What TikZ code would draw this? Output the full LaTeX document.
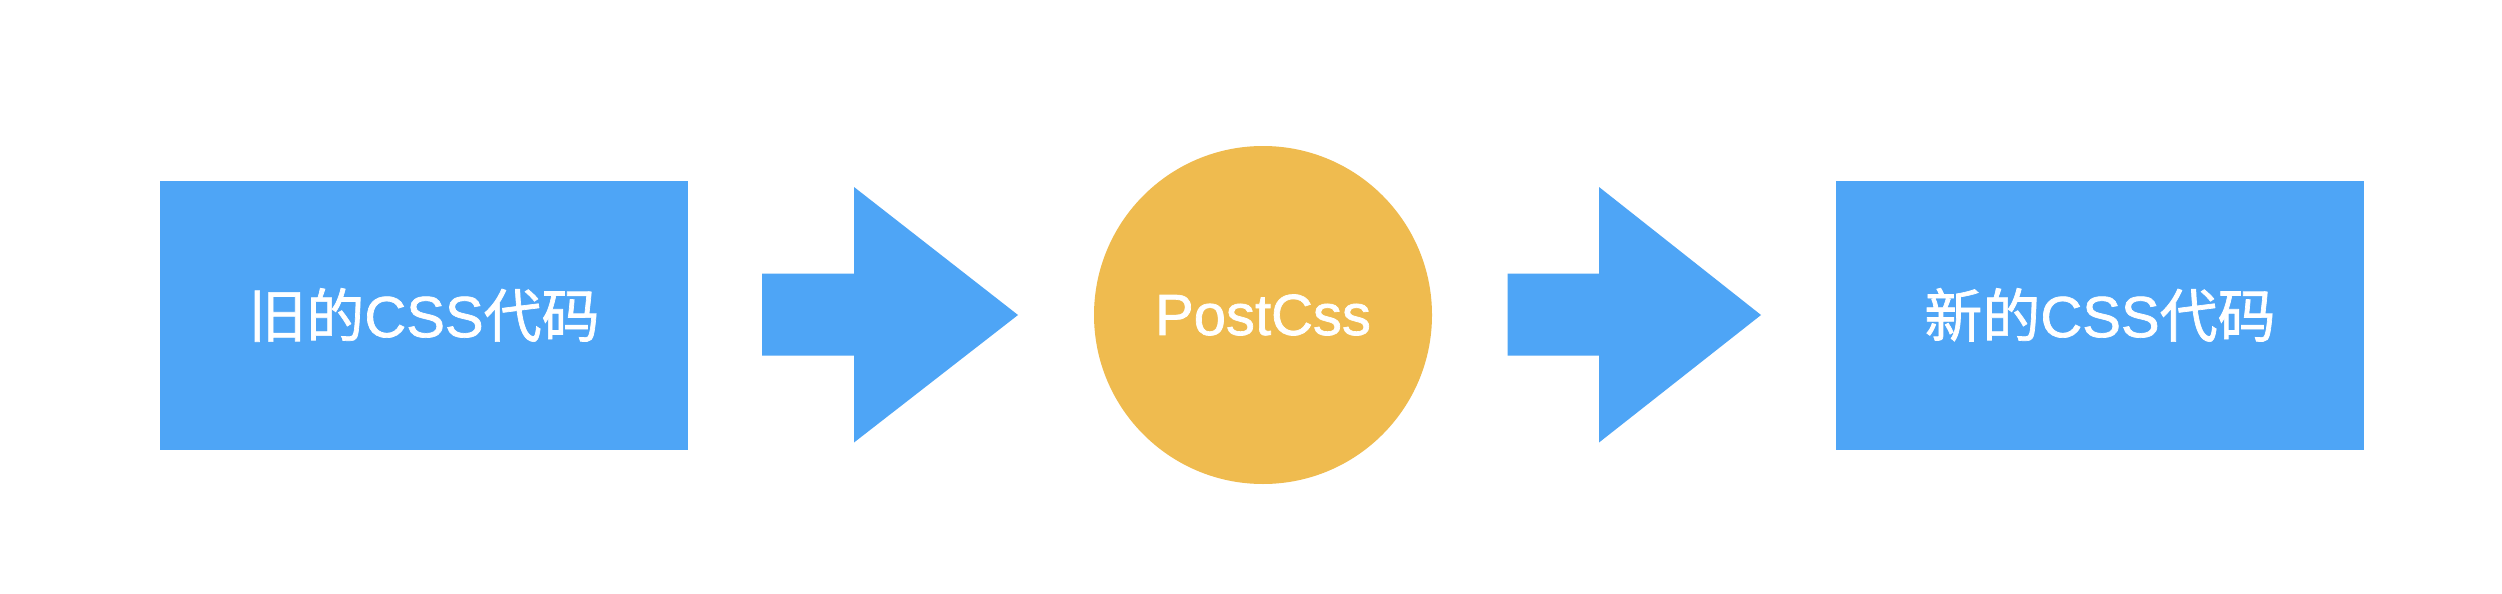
\documentclass[tikz,border=0pt]{standalone}
\usepackage{fontspec}
\setmainfont[BoldFont={Liberation Sans},BoldFeatures={FakeBold=1.2}]{Liberation Sans}
\newfontfamily\cjk[BoldFont={Noto Sans CJK SC},BoldFeatures={FakeBold=1.2}]{Noto Sans CJK SC}
\definecolor{boxblue}{HTML}{4EA5F6}
\definecolor{corange}{HTML}{EFBB4F}
\begin{document}
\begin{tikzpicture}[x=1pt,y=-1pt,
  blockbox/.style={fill=boxblue,draw=none,minimum width=528pt,minimum height=269pt,inner sep=0pt,text=white,font=\fontsize{58}{62}\selectfont\bfseries},
  proccircle/.style={circle,fill=corange,draw=none,minimum size=338pt,inner sep=0pt,text=white,font=\fontsize{58}{62}\selectfont\bfseries},
  bigarrow/.style={fill=boxblue,draw=none}]
\useasboundingbox (0,0) rectangle (2502,594);
\fill[white] (0,0) rectangle (2502,594);
\node[blockbox] (old) at (424,315) {{\cjk 旧的}CSS{\cjk 代码}};
\node[proccircle] (pc) at (1263,315) {PostCss};
\node[blockbox] (new) at (2100,315) {{\cjk 新的}CSS{\cjk 代码}};
% block arrows
\fill[bigarrow] (762,273.5) -- (854,273.5) -- (854,187) -- (1018,315) -- (854,442.5) -- (854,355.7) -- (762,355.7) -- cycle;
\fill[bigarrow] (1507.5,273.5) -- (1599,273.5) -- (1599,187) -- (1761,315) -- (1599,442.5) -- (1599,355.7) -- (1507.5,355.7) -- cycle;
\end{tikzpicture}
\end{document}
